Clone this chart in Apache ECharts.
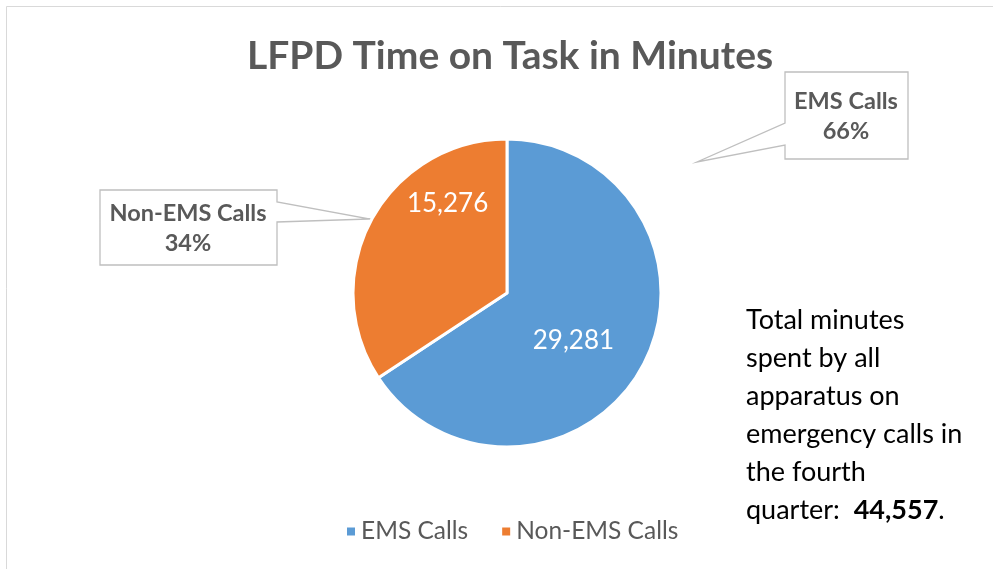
<!DOCTYPE html>
<html>
<head>
<meta charset="utf-8">
<script src="https://cdn.jsdelivr.net/npm/echarts@6/dist/echarts.min.js"></script>
<style>
html,body{margin:0;padding:0;background:#fff;}
#chart{width:993px;height:569px;}
</style>
</head>
<body>
<div id="chart"></div>
<script>
const titleText = 'LFPD Time on Task in Minutes';
const categories = ['EMS Calls', 'Non-EMS Calls'];
const values = [29281, 15276];
const colors = ['#5B9BD5', '#ED7D31'];
const noteLines = ['Total minutes', 'spent by all', 'apparatus on', 'emergency calls in', 'the fourth'];
const noteLast = 'quarter:  ';

const total = values.reduce((a, b) => a + b, 0);
const pct = values.map(v => Math.round(v / total * 100));
const fmt = n => n.toLocaleString('en-US');
const FONT = 'Lato';

const chart = echarts.init(document.getElementById('chart'));

const callout = (i, pts, cx, cy) => [
  {
    type: 'polygon', z: 1,
    shape: { points: pts },
    style: { fill: '#fff', stroke: '#BFBFBF', lineWidth: 1.3 }
  },
  {
    type: 'text', z: 3, x: cx, y: cy,
    style: {
      text: categories[i] + '\n' + pct[i] + '%',
      align: 'center', verticalAlign: 'middle',
      font: 'bold 23.5px ' + FONT, fill: '#595959', lineHeight: 30
    }
  }
];

chart.setOption({
  animation: false,
  backgroundColor: '#fff',
  title: {
    text: titleText, left: 242, top: 32,
    textStyle: { fontFamily: FONT, fontWeight: 'bold', fontSize: 39, color: '#595959' }
  },
  legend: {
    data: categories, left: 340, top: 514,
    icon: 'rect', itemWidth: 10, itemHeight: 10, itemGap: 32,
    textStyle: { fontFamily: FONT, fontSize: 24.5, color: '#595959' }
  },
  graphic: [
    { type: 'rect', z: 0, shape: { x: 6.5, y: 6.5, width: 1100, height: 700 },
      style: { fill: 'none', stroke: '#D9D9D9', lineWidth: 1 } },
    ...callout(0, [[785,72],[908,72],[908,159],[785,159],[785,145],[697,162],[785,123]], 846, 116),
    ...callout(1, [[100,190],[277,190],[277,202],[370,219],[277,222],[277,265],[100,265]], 188, 228),
    {
      type: 'text', z: 3, left: 746, top: 301,
      style: {
        text: noteLines.join('\n') + '\n' + noteLast + '{b|' + fmt(total) + '}.',
        font: '27px ' + FONT, fill: '#000', lineHeight: 38,
        rich: { b: { font: 'bold 27px ' + FONT, fill: '#000', lineHeight: 38 } }
      }
    }
  ],
  series: [{
    type: 'pie', z: 2,
    center: [507, 293], radius: 154,
    startAngle: 90, clockwise: true,
    itemStyle: { borderColor: '#fff', borderWidth: 3 },
    label: {
      show: true, position: 'inside',
      formatter: p => fmt(p.value),
      fontFamily: FONT, fontSize: 26, color: '#fff'
    },
    labelLine: { show: false },
    emphasis: { disabled: true },
    data: categories.map((c, i) => ({
      name: c, value: values[i], itemStyle: { color: colors[i] },
      label: { offset: i === 0 ? [-4, 10] : [11, -51] }
    }))
  }]
});
</script>
</body>
</html>
